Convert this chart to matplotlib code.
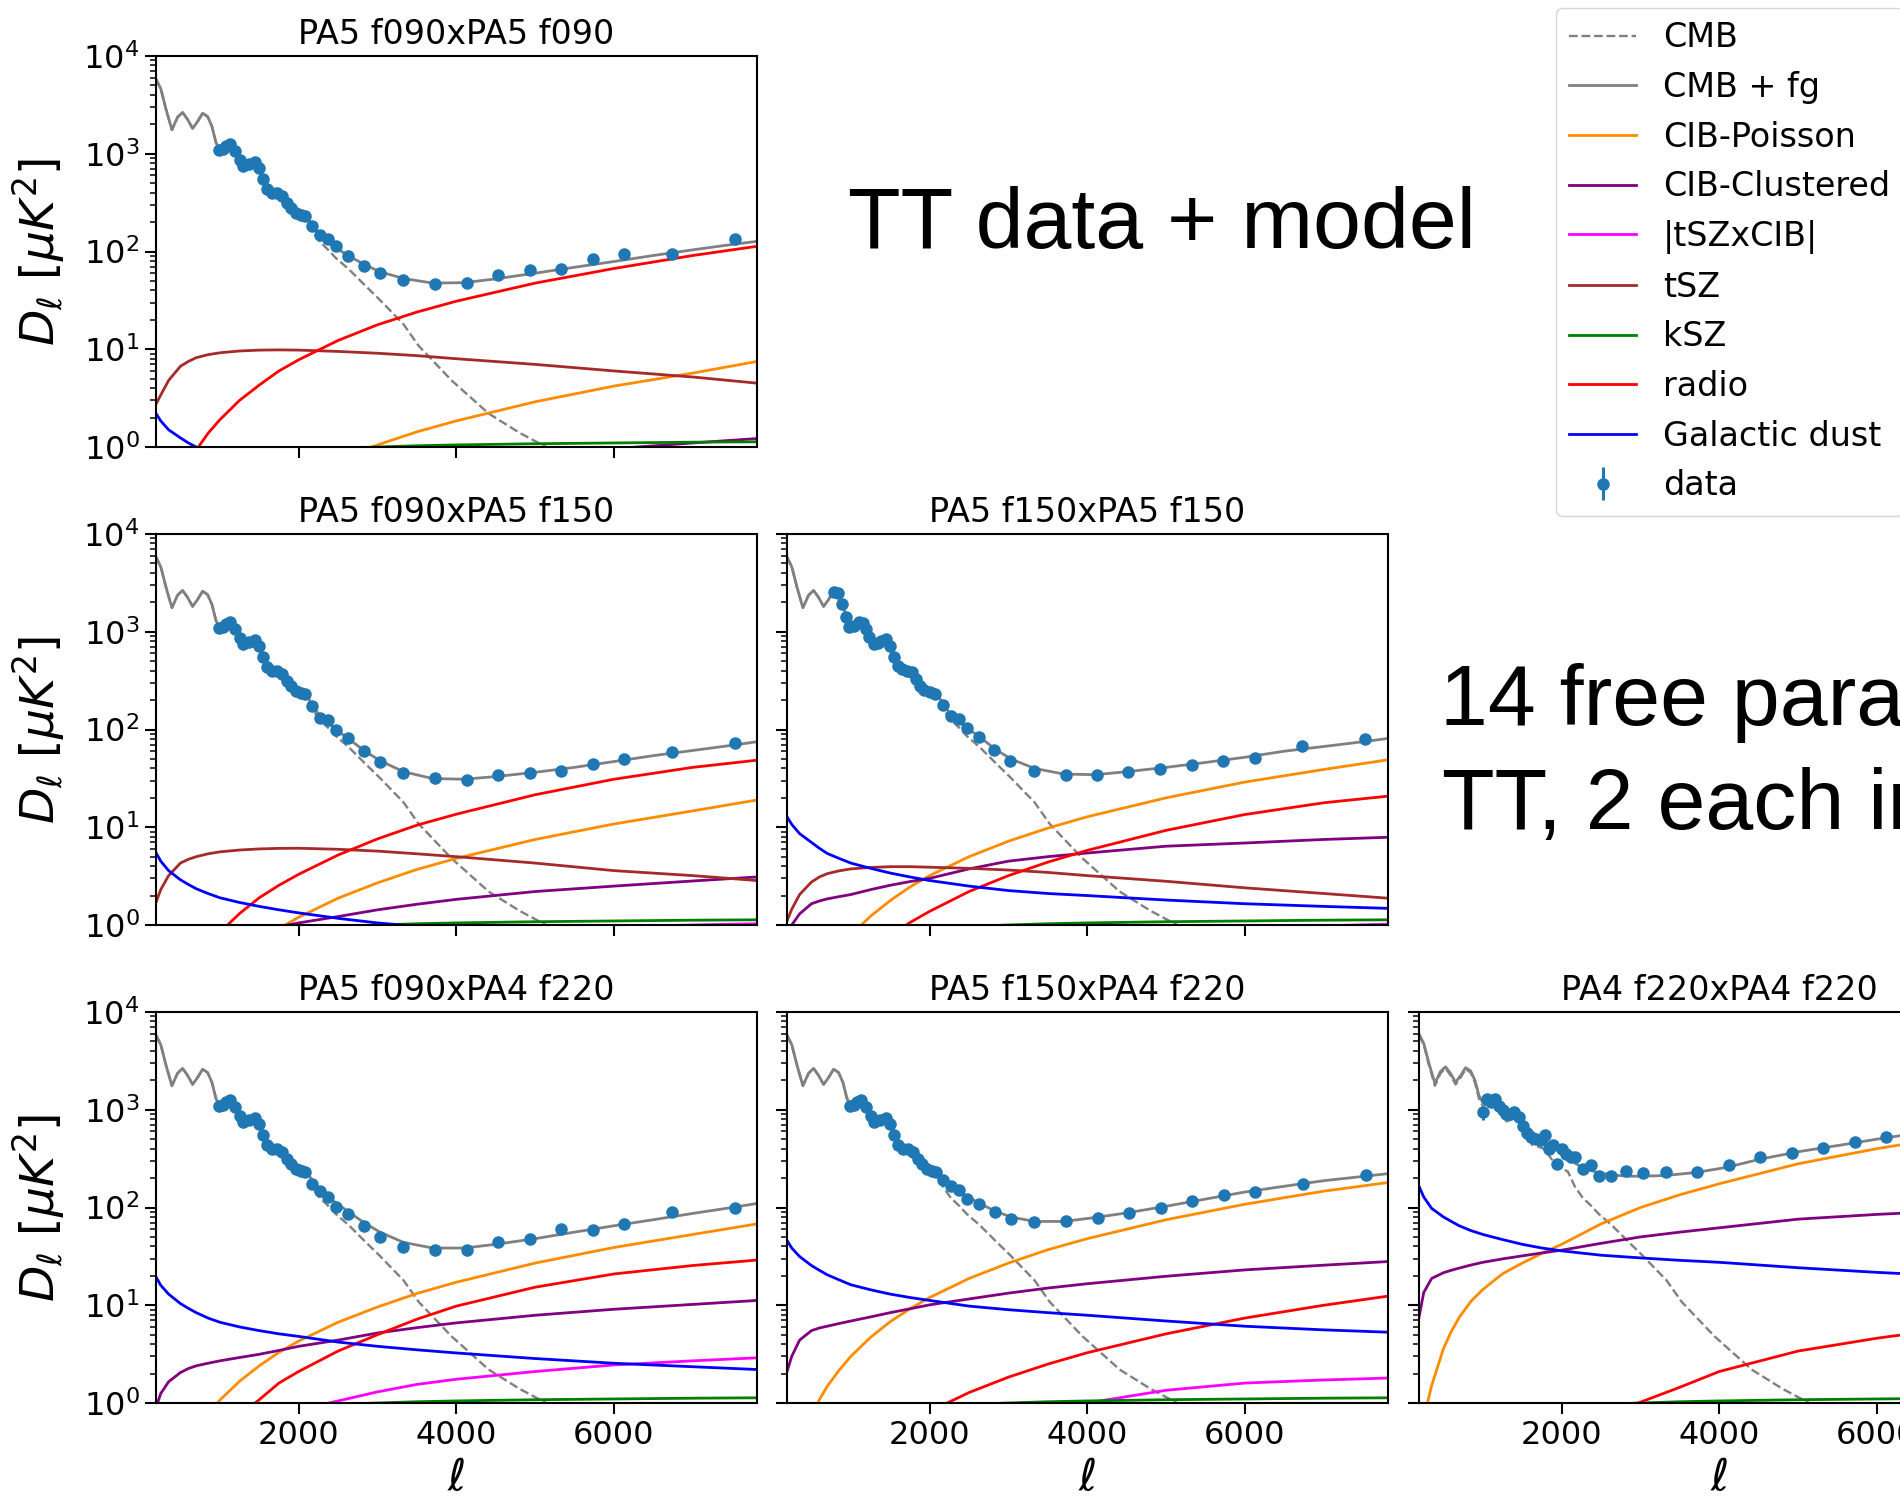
import numpy as np
import matplotlib
matplotlib.use("Agg")
import matplotlib.pyplot as plt

plt.rcParams['font.family'] = 'DejaVu Sans'
plt.rcParams['font.size'] = 23

ell_fg = [190, 250, 350, 500, 600, 700, 850, 1000, 1250, 1500, 1750, 2000, 2500, 3000, 3500, 4000, 5000, 6000, 7000, 7815]

# lensed CMB (same in every spectrum)
ell_cmb = [190, 252, 316, 392, 463, 527, 590, 654, 720, 781, 845, 900, 951, 1000, 1050, 1120, 1180, 1250, 1300, 1360,
           1430, 1490, 1560, 1620, 1700, 1770, 1840, 1900, 1970, 2030, 2080, 2170, 2270, 2370, 2470, 2635, 2830, 3030,
           3330, 3524, 3940, 4410, 4800, 5140, 5600]
cmb = [5810, 4590, 2870, 1760, 2360, 2650, 2250, 1815, 2150, 2600, 2400, 1900, 1300, 1090, 1140, 1260, 1120, 880, 760, 790,
       830, 700, 540, 440, 420, 400, 340, 290, 255, 245, 232, 162, 125, 105, 86, 66, 46, 32,
       18, 10.8, 4.8, 2.2, 1.4, 1.0, 0.6]

# kSZ (same in every spectrum)
ksz = [0.25, 0.3, 0.38, 0.47, 0.53, 0.58, 0.64, 0.7, 0.77, 0.83, 0.88, 0.92, 0.97, 1.0, 1.03, 1.05, 1.08, 1.1, 1.12, 1.13]

# CMB + fg above ell = 2000
ell_tail = [2000, 2080, 2170, 2270, 2370, 2470, 2635, 2830, 3030, 3330, 3700, 4100, 4500, 5000, 5500, 6000, 6500, 7000, 7500, 7815]
tot_90x90 = [268, 252, 182, 146, 127, 109, 90, 74, 62, 53, 47.5, 48, 52.5, 60, 69, 79, 91, 104, 118, 127]
tot_90x150 = [260, 245, 177, 138, 118, 100, 80, 61, 48, 37, 31.5, 31, 33, 36.5, 41, 47, 54, 61, 69, 75]
tot_150x150 = [262, 248, 180, 142, 122, 104, 84, 63, 50, 40, 35, 34.5, 37, 41, 46, 52, 60, 67, 75, 81]
tot_90x220 = [272, 258, 188, 150, 130, 112, 90, 70, 56, 44, 38.5, 38.5, 42, 48, 56, 65, 75, 87, 100, 110]
tot_150x220 = [265, 252, 200, 168, 148, 130, 110, 92, 80, 72, 72, 79, 88, 103, 122, 144, 165, 188, 208, 222]
tot_220x220 = [365, 350, 284, 255, 240, 226, 216, 209, 209, 213, 228, 258, 310, 372, 430, 500, 575, 660, 750, 810]
# 220x220 CMB + fg below ell = 2000 (dust/CIB visibly lift it)
tot_lo_220x220 = [5980, 4730, 2985, 1870, 2465, 2750, 2350, 1910, 2245, 2695, 2495, 1995, 1395, 1185, 1235, 1355, 1215,
                  980, 860, 890, 930, 800, 645, 545, 530, 510, 450, 405, 370]

# foregrounds, one list per component and spectrum
cibp_90x90 = [0.005, 0.008, 0.015, 0.03, 0.043, 0.06, 0.087, 0.12, 0.19, 0.27, 0.36, 0.47, 0.73, 1.05, 1.43, 1.85, 2.9, 4.2, 5.7, 7.5]
cibp_90x150 = [0.01, 0.02, 0.04, 0.075, 0.11, 0.15, 0.22, 0.3, 0.47, 0.68, 0.92, 1.2, 1.88, 2.7, 3.7, 4.8, 7.5, 10.8, 14.7, 19]
cibp_150x150 = [0.03, 0.05, 0.1, 0.2, 0.29, 0.39, 0.57, 0.79, 1.23, 1.78, 2.45, 3.2, 5.0, 7.2, 9.8, 12.8, 20, 29, 39, 49]
cibp_90x220 = [0.04, 0.07, 0.13, 0.27, 0.39, 0.52, 0.77, 1.07, 1.67, 2.4, 3.3, 4.3, 6.7, 9.6, 13.2, 17.2, 27, 39, 53, 68]
cibp_150x220 = [0.11, 0.19, 0.37, 0.75, 1.08, 1.48, 2.16, 3.0, 4.7, 6.8, 9.2, 12, 18.8, 27, 37, 48, 75, 108, 147, 180]
cibp_220x220 = [0.35, 0.7, 1.5, 3.6, 5.4, 7.5, 11, 14.5, 21, 27, 34, 42, 68, 100, 135, 175, 280, 400, 540, 680]

cibc_90x90 = [0.09, 0.12, 0.16, 0.2, 0.22, 0.23, 0.25, 0.26, 0.28, 0.3, 0.33, 0.36, 0.42, 0.5, 0.56, 0.62, 0.78, 0.96, 1.1, 1.22]
cibc_90x150 = [0.25, 0.35, 0.46, 0.57, 0.62, 0.66, 0.71, 0.75, 0.81, 0.87, 0.96, 1.05, 1.22, 1.43, 1.63, 1.83, 2.2, 2.5, 2.82, 3.1]
cibc_150x150 = [0.75, 1.0, 1.3, 1.65, 1.76, 1.85, 1.95, 2.05, 2.3, 2.55, 2.78, 3.0, 3.75, 4.5, 5.0, 5.45, 6.4, 6.9, 7.5, 7.9]
cibc_90x220 = [0.9, 1.25, 1.65, 2.05, 2.25, 2.4, 2.55, 2.7, 2.92, 3.15, 3.45, 3.8, 4.4, 5.2, 5.9, 6.6, 7.9, 9.1, 10.2, 11.2]
cibc_150x220 = [2.1, 3.0, 4.4, 5.5, 5.85, 6.1, 6.5, 6.9, 7.6, 8.4, 9.2, 10.1, 11.6, 13.3, 15, 16.6, 19.8, 23, 25.7, 28]
cibc_220x220 = [7.5, 13.5, 18.8, 21.5, 22.8, 24, 25.8, 27.5, 29.8, 32, 34.3, 36.6, 43, 50, 56, 62, 76, 85, 93, 100]

tszcib_90x90 = [0.05, 0.08, 0.1, 0.13, 0.15, 0.16, 0.18, 0.2, 0.22, 0.25, 0.28, 0.3, 0.35, 0.4, 0.45, 0.5, 0.55, 0.6, 0.65, 0.68]
tszcib_90x150 = [0.1, 0.14, 0.18, 0.22, 0.25, 0.27, 0.3, 0.33, 0.38, 0.42, 0.46, 0.5, 0.58, 0.66, 0.73, 0.8, 0.88, 0.95, 1.0, 1.03]
tszcib_150x150 = [0.1, 0.14, 0.18, 0.22, 0.25, 0.27, 0.3, 0.33, 0.38, 0.42, 0.46, 0.5, 0.58, 0.66, 0.73, 0.79, 0.87, 0.93, 0.98, 1.02]
tszcib_90x220 = [0.15, 0.2, 0.26, 0.33, 0.38, 0.42, 0.47, 0.52, 0.6, 0.68, 0.76, 0.85, 1.05, 1.3, 1.55, 1.75, 2.1, 2.45, 2.7, 2.9]
tszcib_150x220 = [0.05, 0.07, 0.1, 0.13, 0.15, 0.17, 0.2, 0.22, 0.26, 0.3, 0.35, 0.4, 0.52, 0.65, 0.8, 1.0, 1.35, 1.6, 1.72, 1.8]
tszcib_220x220 = [0.02, 0.03, 0.04, 0.05, 0.06, 0.07, 0.08, 0.09, 0.1, 0.12, 0.13, 0.15, 0.18, 0.21, 0.24, 0.27, 0.32, 0.36, 0.4, 0.42]

tsz_90x90 = [2.75, 3.4, 4.8, 6.7, 7.5, 8.2, 8.8, 9.2, 9.6, 9.8, 9.85, 9.8, 9.5, 9.1, 8.6, 8.0, 7.0, 6.0, 5.2, 4.5]
tsz_90x150 = [1.7, 2.3, 3.2, 4.3, 4.7, 5.0, 5.35, 5.6, 5.85, 6.0, 6.08, 6.1, 5.95, 5.7, 5.35, 5.0, 4.3, 3.6, 3.2, 2.85]
tsz_150x150 = [1.1, 1.45, 2.05, 2.75, 3.1, 3.35, 3.58, 3.75, 3.88, 3.95, 3.95, 3.9, 3.8, 3.65, 3.45, 3.2, 2.8, 2.4, 2.1, 1.88]
tsz_90x220 = [0.15, 0.2, 0.26, 0.32, 0.35, 0.37, 0.39, 0.41, 0.42, 0.43, 0.43, 0.43, 0.42, 0.4, 0.38, 0.35, 0.31, 0.27, 0.24, 0.22]
tsz_150x220 = [0.1, 0.13, 0.17, 0.21, 0.23, 0.24, 0.26, 0.27, 0.28, 0.28, 0.28, 0.28, 0.27, 0.26, 0.25, 0.23, 0.2, 0.18, 0.16, 0.14]
tsz_220x220 = [0.01, 0.01, 0.01, 0.02, 0.02, 0.02, 0.02, 0.02, 0.02, 0.02, 0.02, 0.02, 0.02, 0.02, 0.02, 0.02, 0.02, 0.02, 0.02, 0.02]

radio_90x90 = [0.07, 0.12, 0.23, 0.47, 0.68, 0.93, 1.38, 1.9, 3.0, 4.3, 6.0, 7.8, 12.3, 17.8, 24, 31, 47.5, 67, 91, 113]
radio_90x150 = [0.03, 0.05, 0.1, 0.21, 0.3, 0.41, 0.6, 0.84, 1.31, 1.9, 2.55, 3.3, 5.2, 7.6, 10.5, 13.6, 21.5, 31, 41, 48.5]
radio_150x150 = [0.013, 0.022, 0.043, 0.09, 0.13, 0.17, 0.25, 0.35, 0.55, 0.78, 1.06, 1.38, 2.2, 3.2, 4.4, 5.8, 9.3, 13.5, 17.8, 20.8]
radio_90x220 = [0.02, 0.03, 0.06, 0.12, 0.17, 0.24, 0.35, 0.48, 0.75, 1.08, 1.6, 2.1, 3.4, 5.0, 7.2, 9.8, 15.3, 20.9, 25.5, 29]
radio_150x220 = [0.007, 0.013, 0.025, 0.05, 0.072, 0.1, 0.145, 0.2, 0.31, 0.46, 0.63, 0.82, 1.28, 1.84, 2.5, 3.27, 5.1, 7.4, 10, 12.4]
radio_220x220 = [0.004, 0.007, 0.013, 0.03, 0.04, 0.05, 0.08, 0.11, 0.17, 0.25, 0.35, 0.45, 0.7, 1.02, 1.45, 2.1, 3.4, 4.6, 5.9, 7.0]

dust_90x90 = [2.2, 1.85, 1.5, 1.24, 1.1, 1.0, 0.88, 0.8, 0.7, 0.63, 0.57, 0.53, 0.47, 0.43, 0.4, 0.38, 0.34, 0.31, 0.29, 0.27]
dust_90x150 = [5.5, 4.5, 3.6, 2.9, 2.6, 2.35, 2.1, 1.9, 1.7, 1.55, 1.43, 1.33, 1.17, 1.05, 0.97, 0.92, 0.82, 0.74, 0.68, 0.64]
dust_150x150 = [12.8, 10.7, 8.6, 7.0, 6.1, 5.4, 4.8, 4.3, 3.8, 3.4, 3.1, 2.85, 2.5, 2.25, 2.1, 2.0, 1.8, 1.65, 1.55, 1.48]
dust_90x220 = [19.5, 16, 13, 10.4, 9.3, 8.4, 7.4, 6.7, 6.0, 5.5, 5.1, 4.8, 4.2, 3.8, 3.5, 3.25, 2.85, 2.55, 2.35, 2.2]
dust_150x220 = [46, 38.5, 31.5, 25.5, 22.8, 20.5, 18.2, 16.2, 14.4, 13, 12, 11.2, 9.8, 9.0, 8.4, 7.9, 6.9, 6.1, 5.6, 5.3]
dust_220x220 = [165, 128, 98, 80, 72, 65, 58, 53, 47, 42, 38.5, 36, 32.5, 30.5, 28.8, 27.5, 24.2, 21.7, 19.8, 18.7]

# binned data: low-ell part shared by the f090 / f150 x f220 spectra
ell_dlo = [990, 1040, 1080, 1130, 1190, 1250, 1300, 1365, 1440, 1495, 1550, 1600, 1665, 1725, 1790, 1850, 1900, 1965, 2025, 2075]
d_lo = [1085, 1110, 1200, 1250, 1065, 860, 750, 790, 815, 710, 550, 440, 400, 400, 366, 310, 276, 245, 236, 231]
ell_dhi = [2175, 2275, 2375, 2475, 2630, 2830, 3030, 3330, 3725, 4130, 4530, 4930, 5330, 5730, 6130, 6740, 7535]
d_90x90 = [182, 147, 135, 113, 91, 71, 60, 51, 47, 48, 57, 64, 67, 83, 94, 94, 133]
d_90x150 = [174, 132, 125, 100, 81, 60, 47, 36, 31.6, 30.4, 34, 36, 38, 44, 50, 59, 72]
d_90x220 = [176, 146, 129, 101, 85.5, 65, 50, 39.5, 37, 36.7, 44, 47.9, 59.8, 58.9, 68.4, 89, 98]
d_150x220 = [192, 167, 152, 123, 108, 89, 76, 70.5, 72, 78, 88, 100, 117, 133, 143, 175, 213]

ell_d_150x150 = [790, 842, 893, 935, 982, 1034, 1101, 1153, 1190, 1231, 1293, 1345, 1387, 1449, 1491, 1543, 1595, 1647,
                 1709, 1777, 1829, 1881, 1932, 2000, 2073, 2166, 2270, 2374, 2468, 2623, 2816, 3023, 3320, 3725, 4125,
                 4520, 4920, 5325, 5725, 6125, 6727, 7528]
d_150x150 = [2535, 2470, 1923, 1403, 1107, 1152, 1247, 1228, 1065, 875, 747, 760, 809, 841, 718, 553, 448, 414,
             398, 383, 327, 279, 254, 242, 229, 177, 137, 129, 104, 84, 61.5, 48, 37.4, 34.6, 34,
             36.9, 39.6, 43, 47.4, 51, 67.6, 80]

ell_d_220x220 = [998, 1055, 1104, 1150, 1209, 1260, 1300, 1350, 1400, 1460, 1515, 1565, 1615, 1675, 1735, 1790, 1840,
                 1885, 1940, 2005, 2056, 2118, 2175, 2267, 2373, 2479, 2627, 2818, 3029, 3326, 3720, 4118, 4516, 4917,
                 5315, 5716, 6114]
d_220x220 = [944, 1300, 1205, 1290, 1100, 984, 900, 908, 950, 840, 680, 580, 525, 505, 490, 550, 401,
             434, 281, 401, 350, 328, 328, 249, 274, 208, 208, 236, 223, 232, 232, 272, 329, 362,
             408, 470, 529]
err_220x220 = [150, 60, 50, 50, 40, 35, 30, 30, 30, 28, 24, 20, 18, 17, 17, 19, 15,
               16, 30, 15, 13, 12, 12, 9, 10, 8, 8, 8, 8, 8, 8, 9, 11, 12,
               14, 16, 18]

titles = ["PA5 f090xPA5 f090", "PA5 f090xPA5 f150", "PA5 f150xPA5 f150",
          "PA5 f090xPA4 f220", "PA5 f150xPA4 f220", "PA4 f220xPA4 f220"]

W, H = 1900, 1500
fig = plt.figure(figsize=(19, 15), dpi=100)

# axes boxes in pixels: left, top
boxes = [(156, 56), (156, 534), (787, 534), (156, 1012), (787, 1012), (1419, 1012)]
aw, ah = 601, 391

ell_cmb = np.array(ell_cmb)
lo = ell_cmb < 2000
cmb_lo = list(np.array(cmb)[lo])

panels = [
    (cibp_90x90, cibc_90x90, tszcib_90x90, tsz_90x90, radio_90x90, dust_90x90,
     cmb_lo + tot_90x90, ell_dlo + ell_dhi, d_lo + d_90x90, None),
    (cibp_90x150, cibc_90x150, tszcib_90x150, tsz_90x150, radio_90x150, dust_90x150,
     cmb_lo + tot_90x150, ell_dlo + ell_dhi, d_lo + d_90x150, None),
    (cibp_150x150, cibc_150x150, tszcib_150x150, tsz_150x150, radio_150x150, dust_150x150,
     cmb_lo + tot_150x150, ell_d_150x150, d_150x150, None),
    (cibp_90x220, cibc_90x220, tszcib_90x220, tsz_90x220, radio_90x220, dust_90x220,
     cmb_lo + tot_90x220, ell_dlo + ell_dhi, d_lo + d_90x220, None),
    (cibp_150x220, cibc_150x220, tszcib_150x220, tsz_150x220, radio_150x220, dust_150x220,
     cmb_lo + tot_150x220, ell_dlo + ell_dhi, d_lo + d_150x220, None),
    (cibp_220x220, cibc_220x220, tszcib_220x220, tsz_220x220, radio_220x220, dust_220x220,
     tot_lo_220x220 + tot_220x220, ell_d_220x220, d_220x220, err_220x220),
]

ell_tot = list(ell_cmb[lo]) + ell_tail
lw = 2.0

for i, (p, (x0, y0)) in enumerate(zip(panels, boxes)):
    cibp, cibc, tszcib, tsz, radio, dust, tot, ell_d, d, err = p
    ax = fig.add_axes([x0 / W, 1 - (y0 + ah) / H, aw / W, ah / H])
    h_cmb, = ax.plot(ell_cmb, cmb, '--', color='gray', lw=1.7, label='CMB')
    h_tot, = ax.plot(ell_tot, tot, '-', color='gray', lw=lw, label='CMB + fg')
    h1, = ax.plot(ell_fg, cibp, color='darkorange', lw=lw, label='CIB-Poisson')
    h2, = ax.plot(ell_fg, cibc, color='purple', lw=lw, label='CIB-Clustered')
    h3, = ax.plot(ell_fg, tszcib, color='magenta', lw=lw, label='|tSZxCIB|')
    h4, = ax.plot(ell_fg, tsz, color='brown', lw=lw, label='tSZ')
    h5, = ax.plot(ell_fg, ksz, color='green', lw=lw, label='kSZ')
    h6, = ax.plot(ell_fg, radio, color='red', lw=lw, label='radio')
    h7, = ax.plot(ell_fg, dust, color='blue', lw=lw, label='Galactic dust')
    hd = ax.errorbar(ell_d, d, yerr=err, fmt='o', color='#1f77b4', ms=8, elinewidth=2.2,
                     capsize=0, zorder=5, label='data')

    ax.set_yscale('log')
    ax.set_ylim(1, 1e4)
    ax.set_xlim(190, 7815)
    ax.set_xticks([2000, 4000, 6000])
    ax.set_title(titles[i], fontsize=24, pad=9)
    ax.tick_params(which='major', length=8, width=1.5, pad=4, labelsize=23)
    ax.tick_params(which='minor', length=4.5, width=1.1)
    for s in ax.spines.values():
        s.set_linewidth(1.5)

    if x0 == 156:
        ax.set_ylabel(r'$D_\ell\ [\mu K^2]$', fontsize=34)
        ax.yaxis.set_label_coords(-0.148, 0.5)
    else:
        ax.tick_params(labelleft=False)
    if y0 == 1012:
        ax.set_xlabel(r'$\ell$', fontsize=32)
        ax.xaxis.set_label_coords(0.5, -0.135)
    else:
        ax.tick_params(labelbottom=False)

handles = [h_cmb, h_tot, h1, h2, h3, h4, h5, h6, h7, hd]
fig.legend(handles, [h.get_label() for h in handles], loc='upper left',
           bbox_to_anchor=(1556 / W, 1 - 8 / H), borderaxespad=0, fontsize=24, labelspacing=0.5)

# slide annotations
fig.text(848 / W, 1 - 226 / H, "TT data + model", fontsize=62, family='Liberation Sans', va='center')
fig.text(1440 / W, 1 - 703 / H, "14 free parameters in", fontsize=62, family='Liberation Sans', va='center')
fig.text(1442 / W, 1 - 807 / H, "TT, 2 each in", fontsize=62, family='Liberation Sans', va='center')

fig.savefig('out.png', dpi=100)
